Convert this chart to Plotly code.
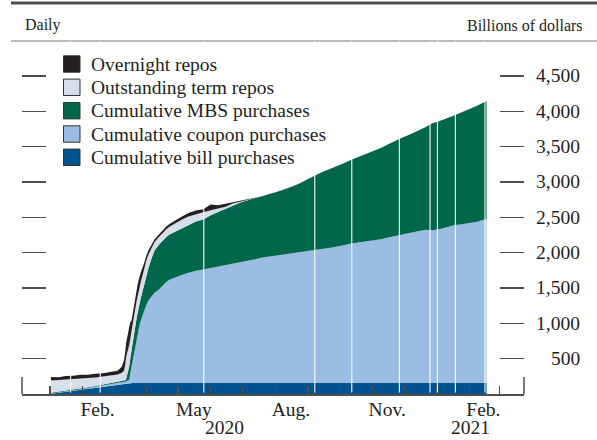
import plotly.graph_objects as go
import pandas as pd

# ---------------- data (billions of dollars) ----------------
dates = [
    "2020-01-02", "2020-01-09", "2020-01-16", "2020-01-23", "2020-01-30", "2020-02-06",
    "2020-02-13", "2020-02-20", "2020-02-27", "2020-03-05",
    "2020-03-09", "2020-03-10", "2020-03-11", "2020-03-12", "2020-03-13", "2020-03-16",
    "2020-03-17", "2020-03-18", "2020-03-19", "2020-03-20", "2020-03-23", "2020-03-24",
    "2020-03-25", "2020-03-26", "2020-03-27", "2020-03-30", "2020-03-31",
    "2020-04-01", "2020-04-03", "2020-04-06", "2020-04-09", "2020-04-13", "2020-04-16",
    "2020-04-20", "2020-04-23", "2020-04-27", "2020-04-30",
    "2020-05-04", "2020-05-11", "2020-05-18", "2020-05-25", "2020-06-01", "2020-06-08",
    "2020-06-15", "2020-06-22", "2020-06-29", "2020-07-06", "2020-07-13", "2020-07-20",
    "2020-07-27", "2020-08-03", "2020-08-10", "2020-08-17", "2020-08-24", "2020-08-31",
    "2020-09-07", "2020-09-14", "2020-09-21", "2020-09-28", "2020-10-05", "2020-10-12",
    "2020-10-19", "2020-10-26", "2020-11-02", "2020-11-09", "2020-11-16", "2020-11-23",
    "2020-11-30", "2020-12-07", "2020-12-14", "2020-12-21", "2020-12-28", "2021-01-04",
    "2021-01-11", "2021-01-18", "2021-01-25", "2021-02-01", "2021-02-08", "2021-02-15",
    "2021-02-17",
]

bill_purchases = [
    5, 15, 30, 45, 60, 75, 90, 105, 120, 135,
    142, 145, 148, 150, 152, 154,
    155, 155, 155, 155, 155, 155, 155, 155, 155, 155, 155,
    155, 155, 155, 155, 155, 155, 155, 155, 155, 155,
    155, 155, 155, 155, 155, 155, 155, 155, 155, 155, 155, 155,
    155, 155, 155, 155, 155, 155, 155, 155, 155, 155, 155, 155, 155, 155, 155, 155,
    155, 155, 155, 155, 155, 155, 155, 155, 155, 155, 155, 155, 155, 155, 155,
]

coupon_purchases = [
    3, 5, 6, 7, 8, 9, 10, 12, 15, 20,
    22, 23, 24, 25, 30, 46,
    145, 225, 295, 369, 652, 715, 780, 841, 890, 1025, 1060,
    1100, 1165, 1225, 1280, 1325, 1375, 1430, 1460, 1485, 1505,
    1525, 1560, 1590, 1605, 1625, 1640, 1660, 1685, 1705, 1730, 1750, 1775,
    1789, 1803, 1818, 1832, 1847, 1864, 1880, 1896, 1912, 1928, 1950, 1975, 1989, 2003,
    2018, 2034, 2059, 2084, 2106, 2127, 2148, 2169, 2163, 2181, 2211, 2235, 2247, 2260,
    2282, 2312, 2315,
]

mbs_purchases = [
    10, 12, 12, 12, 13, 13, 13, 14, 15, 17,
    18, 19, 20, 20, 28, 200,
    210, 235, 255, 265, 275, 285, 295, 305, 320, 360, 394,
    410, 454, 536, 598, 630, 632, 635, 640, 645, 650,
    655, 675, 695, 710, 750, 780, 805, 830, 850, 856, 864, 867,
    886, 905, 925, 946, 975, 1014, 1053, 1087, 1111, 1136, 1159, 1183, 1210, 1238,
    1264, 1291, 1318, 1346, 1370, 1393, 1416, 1449, 1507, 1525, 1536, 1554, 1583, 1611,
    1640, 1665, 1672,
]

term_repos = [
    172, 163, 157, 148, 139, 128, 122, 114, 105, 103,
    118, 123, 138, 205, 310, 300,
    290, 265, 265, 271, 238, 235, 230, 229, 230, 220, 221,
    215, 196, 154, 117, 110, 110, 110, 110, 115, 120,
    125, 120, 105, 100, 70, 45, 30, 25, 15, 9, 5, 0,
    0, 0, 0, 0, 0, 0, 0, 0, 0, 0, 0, 0, 0, 0,
    0, 0, 0, 0, 0, 0, 0, 0, 0, 0, 0, 0, 0, 0,
    0, 0, 0,
]

overnight_repos = [
    50, 43, 50, 46, 52, 48, 52, 47, 55, 55,
    90, 120, 150, 180, 200, 250,
    220, 150, 160, 170, 170, 170, 160, 150, 130, 90, 80,
    70, 60, 50, 40, 35, 35, 40, 40, 45, 45,
    45, 50, 50, 45, 80, 50, 40, 20, 10, 0, 0, 0,
    0, 0, 0, 0, 0, 0, 0, 0, 0, 0, 0, 0, 0, 0,
    0, 0, 0, 0, 0, 0, 0, 0, 10, 0, 0, 0, 5, 0,
    0, 0, 0,
]

# market holidays: days with no observation (white gaps)
holidays = [
    "2020-01-20", "2020-02-17", "2020-05-25", "2020-09-07", "2020-10-12",
    "2020-11-26", "2020-12-25", "2021-01-01", "2021-01-18", "2021-02-15",
]

series_names = [
    "Cumulative bill purchases", "Cumulative coupon purchases",
    "Cumulative MBS purchases", "Outstanding term repos", "Overnight repos",
]
series_values = [bill_purchases, coupon_purchases, mbs_purchases, term_repos, overnight_repos]
series_colors = ["#00538f", "#9bbde3", "#00674a", "#d6dee9", "#231f20"]

y_tick_values = [500, 1000, 1500, 2000, 2500, 3000, 3500, 4000, 4500]
y_tick_labels = ["500", "1,000", "1,500", "2,000", "2,500", "3,000", "3,500", "4,000", "4,500"]
month_label_dates = ["2020-02-15", "2020-05-16", "2020-08-16", "2020-11-15", "2021-02-14"]
month_labels = ["Feb.", "May", "Aug.", "Nov.", "Feb."]
year_label_dates = ["2020-06-14", "2021-02-02"]
year_labels = ["2020", "2021"]

# ---------------- geometry ----------------
W, H = 597, 440
ML, MR, MT, MB = 22, 73, 41, 46
PW, PH = W - ML - MR, H - MT - MB
Y_MAX = 4994
X_RANGE = ["2019-12-05 12:00", "2021-03-24 10:00"]
TEXT = "#231f20"
AXC = "#4d4d4d"
FONT = "Liberation Serif"
FS = 19.5


def px_x(px):
    return (px - ML) / PW


def px_y(py):
    return (MT + PH - py) / PH


fig = go.Figure()
for name, vals, col in zip(series_names, series_values, series_colors):
    fig.add_trace(go.Scatter(
        x=dates, y=vals, name=name, stackgroup="stack", mode="lines",
        line=dict(width=0, color=col), fillcolor=col,
        showlegend=False, hoverinfo="skip",
    ))

shapes = []
# header rules
shapes.append(dict(type="line", xref="paper", yref="paper", x0=px_x(11), x1=px_x(597),
                   y0=px_y(3), y1=px_y(3), line=dict(color=AXC, width=3)))
shapes.append(dict(type="line", xref="paper", yref="paper", x0=px_x(11), x1=px_x(597),
                   y0=px_y(41), y1=px_y(41), line=dict(color="#777777", width=1)))
# end caps of the bottom axis
for xp in (0, 1):
    shapes.append(dict(type="line", xref="paper", yref="paper", x0=xp, x1=xp,
                       y0=0, y1=px_y(377), line=dict(color=AXC, width=1.5)))
# holiday gaps
for h in holidays:
    d0 = pd.Timestamp(h)
    d1 = d0 + pd.Timedelta(days=1)
    shapes.append(dict(type="rect", xref="x", yref="paper", x0=d0, x1=d1, y0=0.004, y1=1,
                       fillcolor="white", line=dict(width=0), layer="above"))

annotations = []
annotations.append(dict(text="Daily", xref="paper", yref="paper", x=px_x(23), y=px_y(25),
                        xanchor="left", yanchor="middle", showarrow=False,
                        font=dict(size=16, color=TEXT, family=FONT)))
annotations.append(dict(text="Billions of dollars", xref="paper", yref="paper", x=px_x(585),
                        y=px_y(25), xanchor="right", yanchor="middle", showarrow=False,
                        font=dict(size=16, color=TEXT, family=FONT)))
for v, lab in zip(y_tick_values, y_tick_labels):
    annotations.append(dict(text=lab, xref="paper", yref="y", x=px_x(582), y=v,
                            xanchor="right", yanchor="middle", showarrow=False,
                            font=dict(size=FS, color=TEXT, family=FONT)))
for d, lab in zip(year_label_dates, year_labels):
    annotations.append(dict(text=lab, xref="x", yref="paper", x=d, y=px_y(427.5),
                            xanchor="center", yanchor="middle", showarrow=False,
                            font=dict(size=FS, color=TEXT, family=FONT)))

# legend (top to bottom: overnight ... bill)
legend_rows = [64, 87.3, 110.7, 134, 157.3]
for i, idx in enumerate(range(len(series_names) - 1, -1, -1)):
    cy = legend_rows[i]
    shapes.append(dict(type="rect", xref="paper", yref="paper",
                       x0=px_x(63.5), x1=px_x(80), y0=px_y(cy - 8.2), y1=px_y(cy + 8.2),
                       fillcolor=series_colors[idx], line=dict(color="#333333", width=1)))
    annotations.append(dict(text=series_names[idx], xref="paper", yref="paper",
                            x=px_x(89), y=px_y(cy), xanchor="left", yanchor="middle",
                            showarrow=False, font=dict(size=FS, color=TEXT, family=FONT)))

fig.update_layout(
    width=W, height=H,
    margin=dict(l=ML, r=MR, t=MT, b=MB, pad=0),
    paper_bgcolor="white", plot_bgcolor="white",
    font=dict(family=FONT, color=TEXT, size=FS),
    showlegend=False,
    shapes=shapes, annotations=annotations,
    xaxis=dict(
        type="date", range=X_RANGE, showgrid=False, zeroline=False,
        showline=True, linecolor=AXC, linewidth=1.5,
        tickmode="array", tickvals=month_label_dates, ticktext=month_labels,
        ticks="", ticklabelstandoff=-3, tickfont=dict(size=FS, color=TEXT, family=FONT),
        minor=dict(ticks="inside", ticklen=8, tickwidth=1.2, tickcolor=AXC,
                   dtick="M1", tick0="2020-01-01", showgrid=False),
    ),
    yaxis=dict(
        range=[0, Y_MAX], showgrid=False, zeroline=False, showline=False,
        tickmode="array", tickvals=y_tick_values, ticks="inside", ticklen=24,
        tickwidth=1.2, tickcolor=AXC, mirror="ticks", showticklabels=False,
    ),
)

fig.write_html(
    "out.html",
    config={"displayModeBar": False, "staticPlot": True},
    post_script="document.body.style.margin='0';document.body.style.overflow='hidden';",
)
